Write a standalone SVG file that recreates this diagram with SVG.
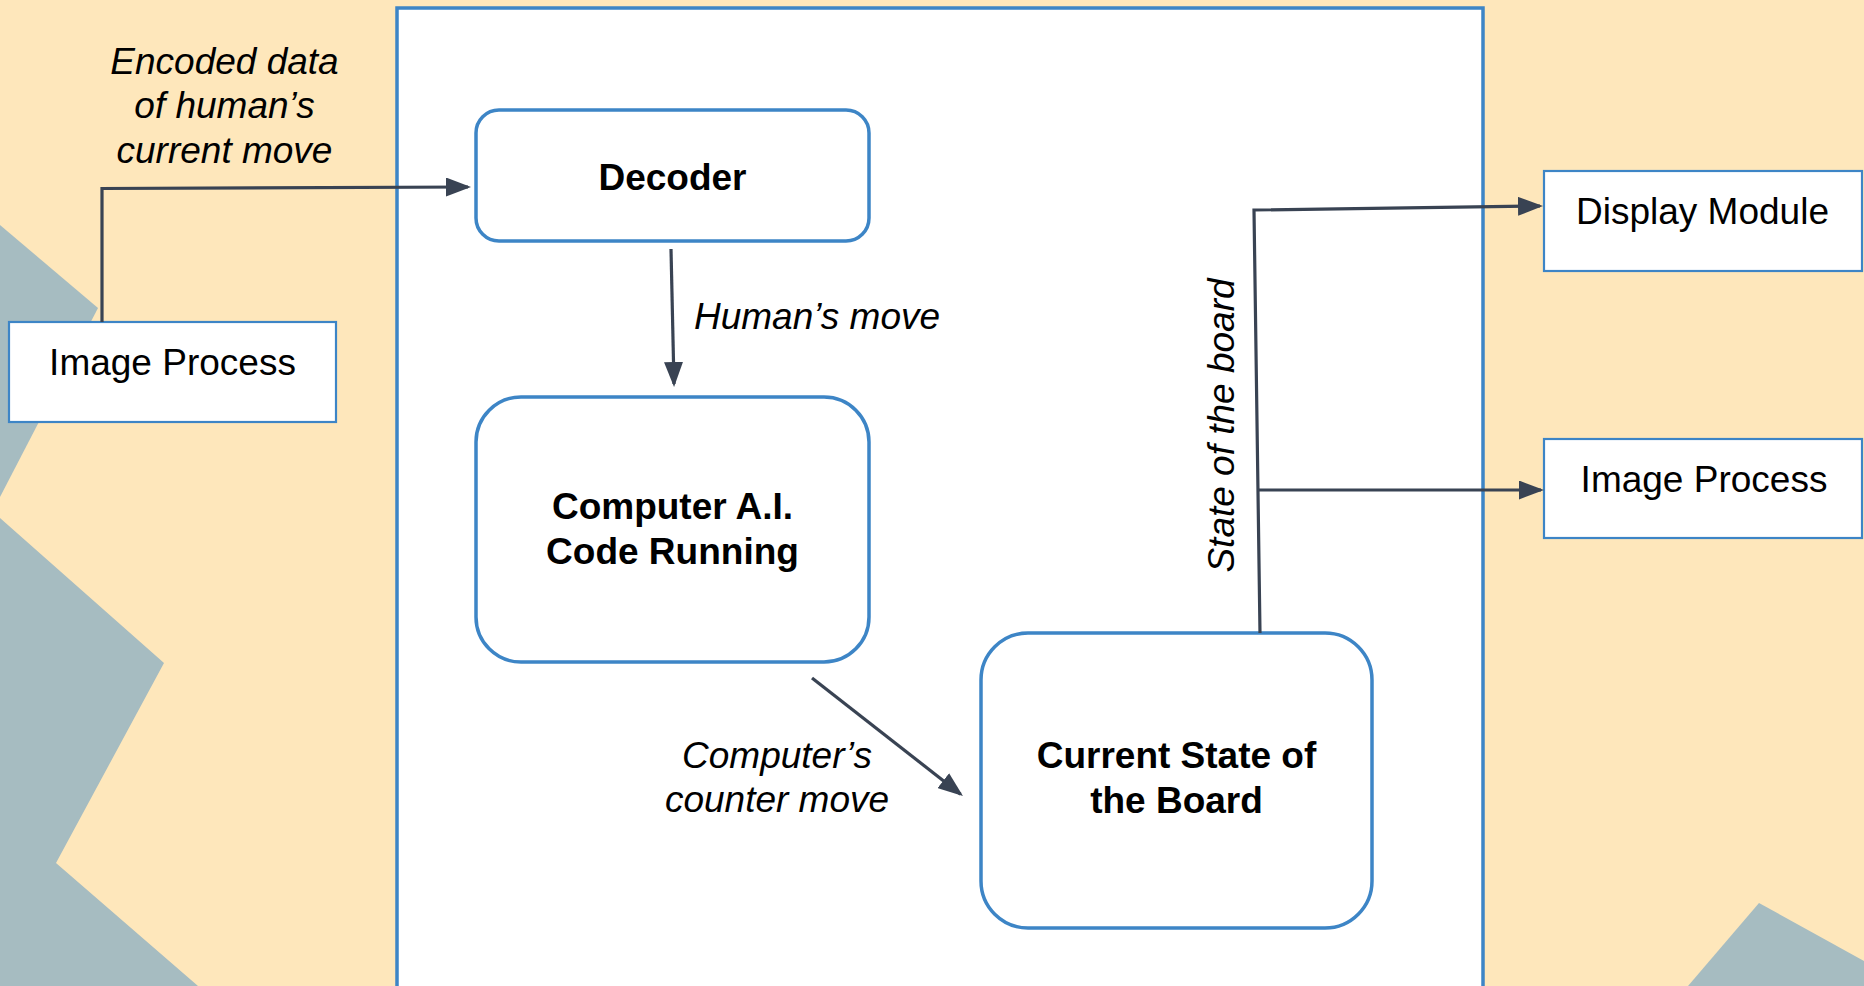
<svg xmlns="http://www.w3.org/2000/svg" width="1864" height="986" viewBox="0 0 1864 986">
<style>
.bg{fill:#FEE7BB}
.deco{fill:#A6BCC1}
.rbox{fill:#FFFFFF;stroke:#3D85C6;stroke-width:3.5}
.sbox{fill:#FFFFFF;stroke:#3D85C6;stroke-width:2.2}
.conn{fill:none;stroke:#394353;stroke-width:3.2}
.t{font-family:"Liberation Sans",Arial,sans-serif;font-size:37px;fill:#000000;text-anchor:middle}
.b{font-weight:bold}
.i{font-style:italic}
</style>
<defs>
<marker id="arr" viewBox="0 0 25 19" refX="22" refY="9.5" markerWidth="25" markerHeight="19" markerUnits="userSpaceOnUse" orient="auto">
<path d="M0,0 L25,9.5 L0,19 Z" fill="#394353"/>
</marker>
</defs>
<rect class="bg" x="0" y="0" width="1864" height="986"/>
<g id="decoration">
<polygon class="deco" points="0,225 98,308 0,497"/>
<polygon class="deco" points="0,518 164,663 56,863 198,986 0,986"/>
<polygon class="deco" points="1688,986 1759,903 1864,961 1864,986"/>
</g>
<g id="main-frame">
<rect x="397" y="8" width="1086" height="980" fill="#FFFFFF" stroke="#3D85C6" stroke-width="3.5"/>
</g>
<g id="image-process-in">
<rect class="sbox" x="9" y="322" width="327" height="100"/>
<text class="t" x="172.5" y="375">Image Process</text>
</g>
<g id="decoder">
<rect class="rbox" x="476" y="110" width="393" height="131" rx="23" ry="23"/>
<text class="t b" x="672.5" y="190">Decoder</text>
</g>
<g id="computer-ai">
<rect class="rbox" x="476" y="397" width="393" height="265" rx="45" ry="45"/>
<text class="t b" x="672.5" y="519">Computer A.I.</text>
<text class="t b" x="672.5" y="564">Code Running</text>
</g>
<g id="current-state">
<rect class="rbox" x="981" y="633" width="391" height="295" rx="47" ry="47"/>
<text class="t b" x="1176.5" y="768">Current State of</text>
<text class="t b" x="1176.5" y="813">the Board</text>
</g>
<g id="display-module">
<rect class="sbox" x="1544" y="171" width="318" height="100"/>
<text class="t" x="1702.5" y="224">Display Module</text>
</g>
<g id="image-process-out">
<rect class="sbox" x="1544" y="439" width="318" height="99"/>
<text class="t" x="1704" y="492">Image Process</text>
</g>
<g id="connectors">
<polyline class="conn" points="102,322 102,188.5 468,187" marker-end="url(#arr)"/>
<line class="conn" x1="671" y1="249" x2="674" y2="384" marker-end="url(#arr)"/>
<line class="conn" x1="812" y1="678" x2="960.6" y2="794.2" marker-end="url(#arr)"/>
<polyline class="conn" points="1260,633 1254,210 1540,206" marker-end="url(#arr)"/>
<line class="conn" x1="1258" y1="490" x2="1541" y2="490" marker-end="url(#arr)"/>
</g>
<g id="labels">
<text class="t i" x="224.5" y="74">Encoded data</text>
<text class="t i" x="224.5" y="118">of human’s</text>
<text class="t i" x="224.5" y="163">current move</text>
<text class="t i" x="817" y="329">Human’s move</text>
<text class="t i" x="777" y="768">Computer’s</text>
<text class="t i" x="777" y="812">counter move</text>
<text class="t i" transform="translate(1234,425.5) rotate(-90)" x="0" y="0">State of the board</text>
</g>
</svg>
